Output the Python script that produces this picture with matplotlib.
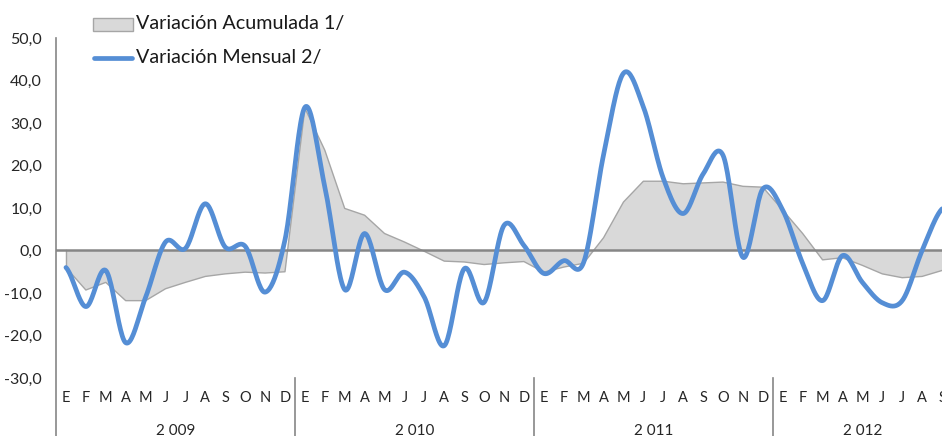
import numpy as np
import matplotlib.pyplot as plt
from matplotlib.patches import Rectangle
from matplotlib.lines import Line2D
import matplotlib.transforms as mtransforms

plt.rcParams['font.family'] = ['Lato', 'DejaVu Sans']

meses = ["E", "F", "M", "A", "M", "J", "J", "A", "S", "O", "N", "D"]
anios = ["2 009", "2 010", "2 011", "2 012"]
meses_por_anio = [12, 12, 12, 9]

mensual = [-4.0, -13.2, -4.7, -21.7, -11.0, 2.0, 0.5, 11.0, 0.8, 1.0, -9.8, 2.5,
           33.7, 15.0, -9.2, 4.0, -9.2, -5.1, -11.0, -22.4, -4.3, -12.2, 5.9, 1.2,
           -5.4, -2.4, -2.8, 22.5, 41.7, 33.8, 17.0, 8.7, 18.0, 22.4, -1.6, 14.5,
           9.5, -3.0, -11.8, -1.2, -7.5, -12.3, -11.8, 0.0, 9.8]

acumulada = [-4.0, -9.3, -7.5, -11.8, -11.8, -9.0, -7.5, -6.1, -5.5, -5.1, -5.3, -5.0,
             33.5, 23.6, 9.9, 8.3, 4.0, 2.0, -0.2, -2.5, -2.7, -3.3, -2.9, -2.6,
             -5.1, -3.9, -3.0, 3.0, 11.4, 16.3, 16.3, 15.7, 15.9, 16.1, 15.1, 14.9,
             9.5, 4.0, -2.2, -1.7, -3.5, -5.5, -6.4, -6.1, -4.7]

etiquetas = []
for n in meses_por_anio:
    etiquetas += meses[:n]


def suavizar(x, y, n=24):
    # curva tipo "línea suavizada" de Excel (Catmull-Rom)
    x = np.asarray(x, float)
    y = np.asarray(y, float)
    px = np.concatenate([[2 * x[0] - x[1]], x, [2 * x[-1] - x[-2]]])
    py = np.concatenate([[y[0]], y, [y[-1]]])
    xs, ys = [], []
    t = np.linspace(0, 1, n)
    for i in range(1, len(px) - 2):
        p0, p1, p2, p3 = py[i - 1], py[i], py[i + 1], py[i + 2]
        c1 = p1 + (p2 - p0) / 6
        c2 = p2 - (p3 - p1) / 6
        yy = (1 - t) ** 3 * p1 + 3 * (1 - t) ** 2 * t * c1 + 3 * (1 - t) * t ** 2 * c2 + t ** 3 * p2
        xx = px[i] + (px[i + 1] - px[i]) * t
        xs.append(xx)
        ys.append(yy)
    return np.concatenate(xs), np.concatenate(ys)


W, H = 942, 436
fig = plt.figure(figsize=(W / 100, H / 100), dpi=100)
ax = fig.add_axes([56 / W, 1 - 378 / H, (952 - 56) / W, 340 / H])

x = np.arange(len(mensual))
ax.fill_between(x, 0, acumulada, facecolor='#d9d9d9', edgecolor='none', zorder=1)
ax.plot(x, acumulada, color='#a6a6a6', lw=1.0, zorder=2)
ax.plot([0, 0], [0, acumulada[0]], color='#a6a6a6', lw=1.0, zorder=2)
ax.axhline(0, color='#868686', lw=1.8, zorder=3)
sx, sy = suavizar(x, mensual)
ax.plot(sx, sy, color='#558ed5', lw=3.4, solid_capstyle='round', zorder=4)

ax.set_xlim(-0.5, len(mensual) - 0.5)
ax.set_ylim(-30, 50)
ax.set_yticks(range(-30, 51, 10))
ax.set_yticklabels([f"{v:.1f}".replace('.', ',') for v in range(-30, 51, 10)],
                   fontsize=11.5, color='#262626')
ax.tick_params(axis='y', length=0, pad=10)
ax.set_xticks([])
for s in ax.spines.values():
    s.set_visible(False)

# eje vertical y separadores de años
trans = mtransforms.blended_transform_factory(ax.transData, ax.transAxes)
ax.add_line(Line2D([-0.5, -0.5], [-60 / 340, 1], transform=trans, color='#868686',
                   lw=1.2, clip_on=False))
pos = 0
for i, n in enumerate(meses_por_anio):
    if i > 0:
        ax.add_line(Line2D([pos - 0.5, pos - 0.5], [-60 / 340, 0], transform=trans,
                           color='#868686', lw=1.2, clip_on=False))
    ax.text(pos + (n - 1) / 2, -52.5 / 340, anios[i], transform=trans, ha='center',
            va='center', fontsize=11, color='#262626')
    pos += n
for i, m in enumerate(etiquetas):
    ax.text(i, -20 / 340, m, transform=trans, ha='center', va='center',
            fontsize=10.5, color='#262626')

# leyenda
fig.patches.append(Rectangle((93 / W, 1 - 31 / H), 40 / W, 13 / H, transform=fig.transFigure,
                             facecolor='#d9d9d9', edgecolor='#a6a6a6', lw=1.0))
fig.lines.append(Line2D([94 / W, 132 / W], [1 - 58 / H, 1 - 58 / H], transform=fig.transFigure,
                        color='#558ed5', lw=3.4, solid_capstyle='round'))
fig.text(136 / W, 1 - 24 / H, "Variación Acumulada 1/", fontsize=14.2, va='center',
         color='#1a1a1a')
fig.text(136 / W, 1 - 58 / H, "Variación Mensual 2/", fontsize=14.2, va='center',
         color='#1a1a1a')

fig.savefig('out.png', dpi=100)
